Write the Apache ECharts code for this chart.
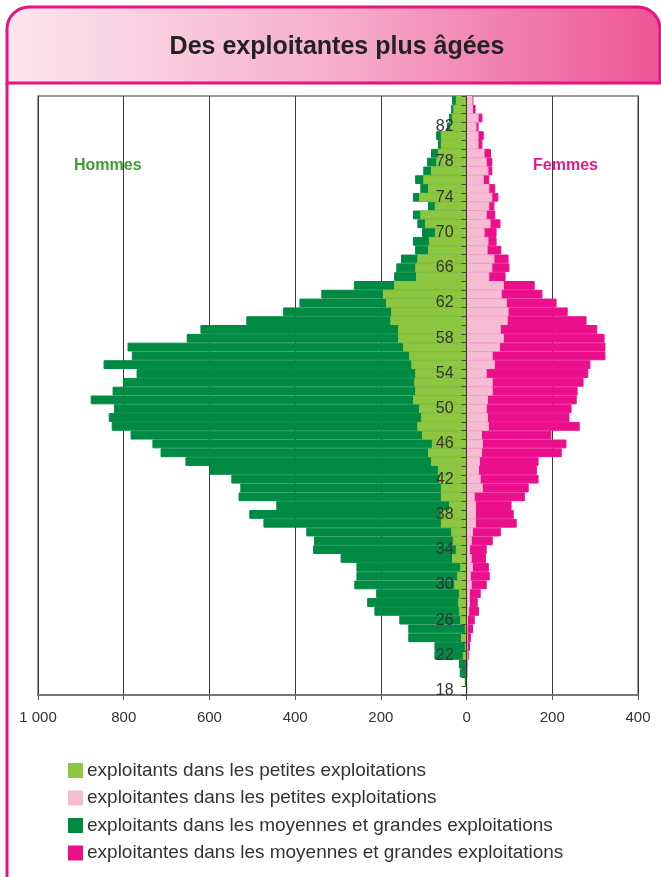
<!DOCTYPE html>
<html>
<head>
<meta charset="utf-8">
<script src="https://cdn.jsdelivr.net/npm/echarts@6/dist/echarts.min.js"></script>
<style>
  html, body { margin: 0; padding: 0; background: #fff; }
  #main { width: 661px; height: 877px; }
</style>
</head>
<body>
<div id="main"></div>
<script>
// ages 18 -> 85
const ages = ['18','19','20','21','22','23','24','25','26','27','28','29','30','31','32','33','34','35','36','37',
  '38','39','40','41','42','43','44','45','46','47','48','49','50','51','52','53','54','55','56','57',
  '58','59','60','61','62','63','64','65','66','67','68','69','70','71','72','73','74','75','76','77',
  '78','79','80','81','82','83','84','85']

// hommes, petites exploitations
const menSmall = [0,0,0,0,9,4,13,4,15,18,20,18,29,22,15,34,25,32,36,60,
  60,41,60,60,64,67,83,90,81,104,115,106,111,125,120,122,120,129,134,148,
  160,160,178,176,188,195,169,118,120,115,90,88,74,97,108,74,111,90,101,83,
  71,67,60,60,38,34,31,25]
// hommes, total (petites + moyennes/grandes)
const menTotal = [0,4,16,18,75,75,136,136,157,215,232,211,262,257,257,294,358,356,374,474,
  507,444,532,528,549,600,656,714,733,784,828,835,823,877,826,802,770,847,781,791,
  653,621,514,428,390,339,263,169,164,153,120,125,104,115,125,90,125,108,120,101,
  92,83,67,71,46,41,36,34]
// femmes, petites exploitations
const womenSmall = [0,0,0,1,2,2,2,2,3,6,8,8,12,10,15,12,8,12,15,22,
  22,22,19,38,33,29,31,36,38,36,52,50,47,50,61,61,47,66,61,78,
  87,80,96,98,94,82,87,53,60,65,49,51,42,56,47,53,60,53,40,51,
  47,42,28,28,23,28,15,14]
// femmes, total
const womenTotal = [0,0,1,3,5,8,10,15,19,29,26,33,47,54,52,45,47,61,80,117,
  110,105,136,145,168,164,168,222,233,198,264,240,245,257,259,273,284,289,324,324,
  322,305,280,236,210,177,159,91,100,98,81,70,70,79,67,65,74,67,53,60,
  60,57,37,40,28,37,21,16]

const xMin = -1000
const xMax = 400

const names = [
  'exploitants dans les petites exploitations',
  'exploitantes dans les petites exploitations',
  'exploitants dans les moyennes et grandes exploitations',
  'exploitantes dans les moyennes et grandes exploitations'
]
const colors = ['#8dc63f', '#f6bcd3', '#008a43', '#ec0f8c']

const font = "'Liberation Sans', Arial, sans-serif"
const gridLeft = 38, gridWidth = 600
const myChart = echarts.init(document.getElementById('main'))

const bar = (name, data, color) => ({
  name: name,
  type: 'bar',
  data: data,
  barGap: '-100%',
  barCategoryGap: '0%',
  // bordure de même couleur pour éviter les fines lignes blanches
  itemStyle: { color: color, borderColor: color, borderWidth: 1 },
  emphasis: { disabled: true }
})

myChart.setOption({
  animation: false,
  textStyle: { fontFamily: font },
  grid: {
    left: gridLeft, top: 96, width: gridWidth, height: 599,
    show: true, borderColor: '#9b9b9b', borderWidth: 2
  },
  legend: {
    orient: 'vertical',
    left: 68,
    top: 761,
    height: 115,
    padding: 0,
    icon: 'rect',
    itemWidth: 13,
    itemHeight: 13,
    itemGap: 8.5,
    data: names,
    textStyle: { fontSize: 19, color: '#333', fontFamily: font }
  },
  xAxis: {
    type: 'value',
    min: xMin,
    max: xMax,
    interval: 200,
    axisLine: { show: true, onZero: false, lineStyle: { color: '#777', width: 2 } },
    axisTick: { show: true, length: 5, lineStyle: { color: '#555' } },
    splitLine: { show: true, lineStyle: { color: '#3a3a3a', width: 1 } },
    axisLabel: {
      fontSize: 15, color: '#333', margin: 15,
      formatter: v => Math.abs(v) === 1000 ? '1 000' : String(Math.abs(v))
    }
  },
  yAxis: {
    type: 'category',
    data: ages,
    z: 10,
    // axe vertical placé sur le zéro
    offset: -gridWidth * (0 - xMin) / (xMax - xMin),
    axisLine: { onZero: false, lineStyle: { color: '#333', width: 1 } },
    axisTick: { show: true, length: 5, interval: 0, lineStyle: { color: '#4a4a3a' } },
    splitLine: { show: false },
    axisLabel: { interval: 3, fontSize: 16, color: '#333', margin: 13 }
  },
  series: [
    bar(names[2], menTotal.map(v => -v), colors[2]),
    bar(names[3], womenTotal, colors[3]),
    bar(names[0], menSmall.map(v => -v), colors[0]),
    bar(names[1], womenSmall, colors[1])
  ],
  graphic: [
    {
      type: 'rect',
      z: -1,
      shape: { x: 7, y: 7, width: 653, height: 76, r: [22, 22, 0, 0] },
      style: {
        fill: new echarts.graphic.LinearGradient(0, 0, 1, 0, [
          { offset: 0, color: '#fce6ee' },
          { offset: 0.5, color: '#f5afcb' },
          { offset: 1, color: '#ee5596' }
        ]),
        stroke: '#e8137f',
        lineWidth: 3
      }
    },
    {
      type: 'line',
      shape: { x1: 7, y1: 83, x2: 7, y2: 880 },
      style: { stroke: '#e8137f', lineWidth: 3 }
    },
    {
      type: 'text',
      style: {
        x: 337, y: 47, text: 'Des exploitantes plus âgées',
        font: 'bold 25px ' + font, fill: '#222',
        align: 'center', verticalAlign: 'middle'
      }
    },
    {
      type: 'text',
      z: 20,
      style: {
        x: 74, y: 166, text: 'Hommes',
        font: 'bold 16px ' + font, fill: '#3f9c35',
        align: 'left', verticalAlign: 'middle'
      }
    },
    {
      type: 'text',
      z: 20,
      style: {
        x: 533, y: 166, text: 'Femmes',
        font: 'bold 16px ' + font, fill: '#e8198b',
        align: 'left', verticalAlign: 'middle'
      }
    }
  ]
})
</script>
</body>
</html>
